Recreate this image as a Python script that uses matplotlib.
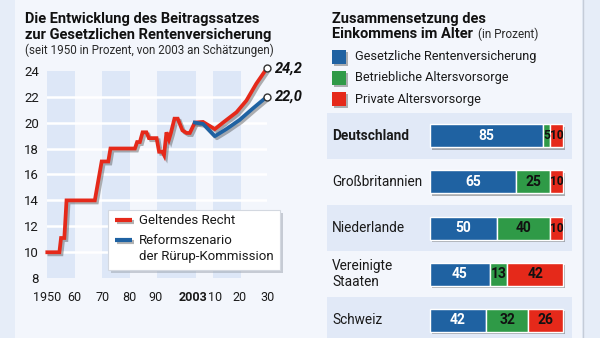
import matplotlib
matplotlib.use('Agg')
import matplotlib.pyplot as plt
import matplotlib.patheffects as pe
import matplotlib.transforms as mtransforms
from matplotlib.patches import Rectangle
from matplotlib.lines import Line2D

plt.rcParams['font.family'] = ['Roboto', 'DejaVu Sans']

W, H = 600, 338

# Beitragssatz zur GRV in Prozent, ab 2003 Schätzung (geltendes Recht)
recht_jahr = [1950, 1954.4, 1955, 1956.2, 1957, 1967.3, 1969.8, 1972.2, 1973, 1981.9,
              1982.7, 1983.7, 1984.7, 1986.1, 1987, 1989.8, 1990.7, 1991.9, 1992.5,
              1993.4, 1994.3, 1995.0, 1996.3, 1997.5, 1999.2, 2000.7, 2001.9, 2003.7,
              2006.7, 2011, 2014.6, 2018.9, 2022.5, 2026.1, 2030]
recht_satz = [10, 10, 11.1, 11.1, 14, 14, 17, 17, 18, 18,
              18.5, 18.5, 19.25, 19.25, 18.8, 18.8, 17.75, 17.75, 17.5,
              19.25, 18.7, 19.2, 20.3, 20.3, 19.4, 19.2, 19.2, 20.0,
              20.05, 19.5, 20.1, 20.8, 21.7, 23.0, 24.2]

# Reformszenario der Rürup-Kommission
reform_jahr = [2003.7, 2006.7, 2011, 2015.2, 2020, 2024.9, 2030]
reform_satz = [20.0, 19.9, 18.95, 19.5, 20.2, 21.1, 22.0]

end_werte = ['24,2', '22,0']

x_ticks = [1950, 1960, 1970, 1980, 1990, 2003, 2010, 2020, 2030]
x_labels = ['1950', '60', '70', '80', '90', '2003', '10', '20', '30']
y_ticks = [8, 10, 12, 14, 16, 18, 20, 22, 24]
baender = [(1950, 1960), (1970, 1980), (1990, 2004), (2010.5, 2020.5)]

# Zusammensetzung des Einkommens im Alter (in Prozent)
laender = ['Deutschland', 'Großbritannien', 'Niederlande', 'Vereinigte\nStaaten', 'Schweiz']
gesetzlich = [85, 65, 50, 45, 42]
betrieblich = [5, 25, 40, 13, 32]
privat = [10, 10, 10, 42, 26]
quellen = ['Gesetzliche Rentenversicherung', 'Betriebliche Altersvorsorge', 'Private Altersvorsorge']

ROT = '#e5291a'
BLAU = '#1f62a2'
GRUEN = '#2f9a47'


def fx(x):
    return x / W


def fy(y):
    return 1 - y / H


fig = plt.figure(figsize=(W / 100, H / 100), dpi=100)
fig.patch.set_facecolor('#e6edf8')

# heller Hintergrund der Grafik mit Trennlinie rechts
fig.add_artist(Rectangle((fx(15), 0), fx(582) - fx(15), 1, transform=fig.transFigure,
                         facecolor='#f3f6fc', edgecolor='none', zorder=0))
fig.add_artist(Line2D([fx(582.5)] * 2, [0, 1], transform=fig.transFigure,
                      color='#c5ccd8', lw=1, zorder=1))

# ---------- linke Grafik: Beitragssatz ----------
ax1 = fig.add_axes([fx(47.3), fy(278.2), (267 - 47.3) / W, (278.2 - 70.7) / H])
ax1.set_facecolor('none')
ax1.set_xlim(1950, 2030)
ax1.set_ylim(8, 24)
for a, b in baender:
    ax1.axvspan(a, b, color='#dde7f7', lw=0, zorder=0)
for v in y_ticks[1:-1]:
    ax1.axhline(v, color='white', lw=1.8, zorder=1)
for s in ax1.spines.values():
    s.set_visible(False)
ax1.set_xticks(x_ticks)
ax1.set_xticklabels(x_labels)
ax1.set_yticks(y_ticks)
ax1.tick_params(length=0, labelsize=9.5, colors='#1a1a1a')
ax1.tick_params(axis='y', pad=6)
ax1.tick_params(axis='x', pad=9, labelsize=9)
xl = ax1.get_xticklabels()
xl[5].set_fontweight('bold')
# "2003" ist breit, die Nachbarn etwas zur Seite schieben
for lab, dx in [(xl[4], -2), (xl[6], 3)]:
    lab.set_transform(lab.get_transform() + mtransforms.ScaledTranslation(dx / 100, 0, fig.dpi_scale_trans))

schatten = [pe.SimpleLineShadow(offset=(1.5, -1.5), shadow_color='#555555', alpha=0.45), pe.Normal()]
ax1.plot(recht_jahr, recht_satz, color=ROT, lw=2.7, solid_joinstyle='miter',
         path_effects=schatten, clip_on=False, zorder=3)
ax1.plot(reform_jahr, reform_satz, color=BLAU, lw=2.7, path_effects=schatten,
         clip_on=False, zorder=4)

for jahr, satz, txt in [(recht_jahr[-1], recht_satz[-1], end_werte[0]),
                        (reform_jahr[-1], reform_satz[-1], end_werte[1])]:
    ax1.plot(jahr, satz, 'o', ms=5, mfc='white', mec='#333333', mew=1, clip_on=False, zorder=5)
    ax1.annotate(txt, (jahr, satz), xytext=(6, 0), textcoords='offset points', va='center',
                 ha='left', fontsize=10.5, fontweight='bold', fontstyle='italic',
                 color='#111111', annotation_clip=False)

# Legende
fig.add_artist(Rectangle((fx(111), fy(273)), (280 - 108) / W, (270 - 210) / H,
                         transform=fig.transFigure, facecolor='#9aa2ad', alpha=0.5,
                         edgecolor='none', zorder=5))
fig.add_artist(Rectangle((fx(108), fy(270)), (280 - 108) / W, (270 - 210) / H,
                         transform=fig.transFigure, facecolor='white',
                         edgecolor='#d3d8e0', lw=0.8, zorder=6))
for yy, farbe in [(220, ROT), (240, BLAU)]:
    fig.add_artist(Line2D([fx(115), fx(132)], [fy(yy)] * 2, transform=fig.transFigure,
                          color=farbe, lw=3, solid_capstyle='butt', zorder=7,
                          path_effects=schatten))
fig.text(fx(139), fy(220), 'Geltendes Recht', fontsize=9.5, va='center', zorder=8, color='#1a1a1a')
fig.text(fx(139), fy(248.5), 'Reformszenario\nder Rürup-Kommission', fontsize=9.5, va='center',
         linespacing=1.25, zorder=8, color='#1a1a1a')

# Überschrift links
fig.text(fx(25), fy(23.5), 'Die Entwicklung des Beitragssatzes', fontsize=10.5,
         fontweight='bold', color='#111111')
fig.text(fx(25), fy(38.5), 'zur Gesetzlichen Rentenversicherung', fontsize=10.5,
         fontweight='bold', color='#111111')
fig.text(fx(25), fy(54), '(seit 1950 in Prozent, von 2003 an Schätzungen)', fontsize=8.4,
         color='#2a2a2a')

# ---------- rechte Grafik: Einkommen im Alter ----------
fig.text(fx(332), fy(22.5), 'Zusammensetzung des', fontsize=10.5, fontweight='bold', color='#111111')
fig.text(fx(332), fy(38.5), 'Einkommens im Alter', fontsize=10.5, fontweight='bold', color='#111111')
fig.text(fx(478), fy(38.5), '(in Prozent)', fontsize=8.5, color='#2a2a2a')

kasten_schatten = [pe.SimplePatchShadow(offset=(1.5, -1.5), shadow_rgbFace='#555555', alpha=0.45),
                   pe.Normal()]
for yy, farbe, txt in zip([56.7, 78, 99], [BLAU, GRUEN, ROT], quellen):
    fig.add_artist(Rectangle((fx(332), fy(yy + 7)), 14 / W, 14 / H, transform=fig.transFigure,
                             facecolor=farbe, edgecolor='none', path_effects=kasten_schatten))
    fig.text(fx(355), fy(yy), txt, fontsize=9.2, va='center', color='#1a1a1a')

ax2 = fig.add_axes([fx(327), fy(343), (572 - 327) / W, 230 / H])
ax2.set_facecolor('none')
ax2.set_xlim(-(430 - 327) / 1.33, (572 - 430) / 1.33)
ax2.set_ylim(4.5, -0.5)
ax2.axis('off')
for i in range(0, len(laender), 2):
    ax2.axhspan(i - 0.5, i + 0.5, color='#e1e9f7', lw=0, zorder=0)

pos = list(range(len(laender)))
links = [0] * len(laender)
for werte, farbe, tfarbe in [(gesetzlich, BLAU, 'white'), (betrieblich, GRUEN, '#111111'),
                             (privat, ROT, '#111111')]:
    bars = ax2.barh(pos, werte, left=links, height=0.5, color=farbe, edgecolor='white',
                    lw=1, zorder=2)
    for b in bars:
        b.set_path_effects(kasten_schatten)
    for p, w, l in zip(pos, werte, links):
        # schmale Segmente bekommen eine kleinere Zahl
        ax2.text(l + w / 2 + (0.6 if w <= 10 and farbe == ROT else 0), p, str(w),
                 ha='center', va='center', fontsize=8.6 if w <= 10 else 10,
                 fontweight='bold', color=tfarbe, zorder=3)
    links = [l + w for l, w in zip(links, werte)]

trans = ax2.get_yaxis_transform()
for p, land in zip(pos, laender):
    ax2.text((332 - 327) / 245, p, land, transform=trans, va='center', ha='left',
             fontsize=9.8, linespacing=1.1, color='#1a1a1a',
             fontweight='bold' if p == 0 else 'normal')

fig.savefig('out.png', dpi=100, facecolor=fig.get_facecolor())
